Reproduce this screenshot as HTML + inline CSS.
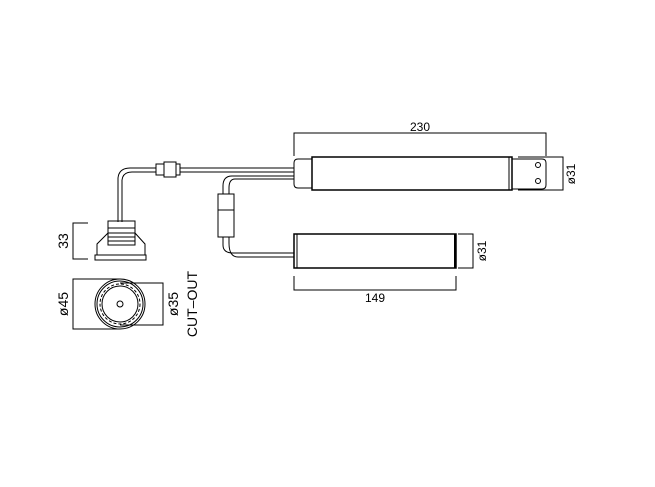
<!DOCTYPE html>
<html><head><style>html,body{margin:0;padding:0;background:#fff}svg{display:block}</style></head>
<body>
<svg width="655" height="487" viewBox="0 0 655 487" xmlns="http://www.w3.org/2000/svg" font-family="Liberation Sans, sans-serif" fill="none" stroke="#000" stroke-width="1">
<!-- 230 dim -->
<path d="M294 156V133H546V156"/>
<text x="420" y="131" font-size="12" fill="#000" stroke="none" text-anchor="middle">230</text>
<!-- main body -->
<rect x="312" y="157" width="200" height="33" stroke-width="1.5"/>
<line x1="509" y1="157" x2="509" y2="190"/>
<path d="M312 159H298Q294 159 294 163V184Q294 188 298 188H312"/>
<path d="M512 159H542Q546 159 546 163V185Q546 189 542 189H512"/>
<circle cx="538" cy="165" r="2.5"/><circle cx="538" cy="181" r="2.5"/>
<path d="M518 157H563V190H518"/>
<text x="0" y="0" font-size="12" fill="#000" stroke="none" text-anchor="middle" transform="translate(575,174) rotate(-90)">ø31</text>
<!-- lower body -->
<rect x="294" y="234" width="162" height="34" stroke-width="1.5"/>
<line x1="297" y1="234" x2="297" y2="268"/>
<line x1="455" y1="234" x2="455" y2="268" stroke-width="2"/>
<path d="M458 234H473V268H458"/>
<text x="0" y="0" font-size="12" fill="#000" stroke="none" text-anchor="middle" transform="translate(486,251) rotate(-90)">ø31</text>
<path d="M294 276V290H456V276"/>
<text x="375" y="302" font-size="12" fill="#000" stroke="none" text-anchor="middle">149</text>
<!-- top cable -->
<path d="M294 168H130Q119 168 118 178V222"/>
<path d="M294 172H132Q123 172 122 180V222"/>
<rect x="156" y="164" width="8" height="11" fill="#fff"/>
<rect x="164" y="162" width="12" height="15" fill="#fff"/>
<rect x="176" y="164" width="4" height="11" fill="#fff"/>
<!-- lower cables -->
<path d="M294 176H232Q223 176 223 186V194"/>
<path d="M294 179H235Q229 179 229 188V194"/>
<rect x="218" y="194" width="16" height="43"/>
<line x1="218" y1="210" x2="234" y2="210"/>
<path d="M223 237V245Q223 253 233 253H294"/>
<path d="M229 237V243Q229 257 238 257H294"/>
<!-- fixture side -->
<rect x="108" y="221" width="27" height="24"/>
<path d="M108 233L97 244V255M135 233L145 244V255"/>
<path d="M108 233H135M108 228H135M108 237H135M108 241H135"/>
<rect x="95" y="255" width="51" height="5"/>
<path d="M88 223H73V259H88"/>
<text x="0" y="0" font-size="14" fill="#000" stroke="none" text-anchor="middle" transform="translate(68,241) rotate(-90)">33</text>
<!-- plan -->
<circle cx="120" cy="304" r="25"/>
<circle cx="120" cy="304" r="23"/>
<circle cx="120" cy="304" r="20" stroke-dasharray="3 2"/>
<circle cx="120" cy="304" r="18"/>
<circle cx="120" cy="304" r="3"/>
<path d="M120 279H73V329H120"/>
<path d="M120 283H163V325H120"/>
<text x="0" y="0" font-size="14" fill="#000" stroke="none" text-anchor="middle" transform="translate(68,304) rotate(-90)">ø45</text>
<text x="0" y="0" font-size="14" fill="#000" stroke="none" text-anchor="middle" transform="translate(178,304) rotate(-90)">ø35</text>
<text x="0" y="0" font-size="14" fill="#000" stroke="none" text-anchor="middle" transform="translate(197,304) rotate(-90)">CUT–OUT</text>
</svg>
</body></html>
